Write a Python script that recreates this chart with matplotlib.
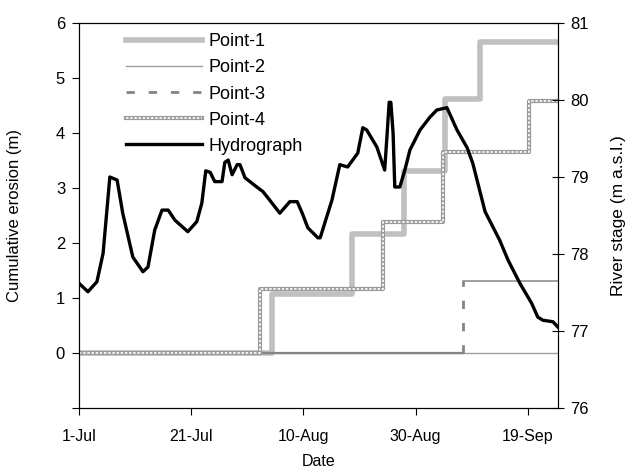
import matplotlib
matplotlib.use("Agg")
import matplotlib.pyplot as plt
from matplotlib.lines import Line2D

plt.rcParams['font.family'] = ['Liberation Sans', 'DejaVu Sans']

# days since 1-Jul
tick_days = [0, 20, 40, 60, 80]
tick_labels = ['1-Jul', '21-Jul', '10-Aug', '30-Aug', '19-Sep']

# cumulative erosion (m), step series
p1_days = [0, 34.4, 48.7, 57.9, 65.2, 71.5, 85.4]
p1_vals = [0, 1.07, 2.16, 3.31, 4.62, 5.65, 5.65]
p2_days = [0, 85.4]
p2_vals = [0, 0]
p3_days = [0, 68.5, 85.4]
p3_vals = [0, 1.31, 1.31]
p4_days = [0, 32.2, 54.2, 64.9, 80.2, 85.4]
p4_vals = [0, 1.16, 2.38, 3.65, 4.58, 4.58]

# river stage (m a.s.l.)
hyd_days = [0, 1.6, 3.2, 4.3, 5.5, 6.8, 7.8, 9.6, 11.4, 12.3, 13.5, 14.8, 15.9,
            17.1, 19.4, 21.0, 21.9, 22.6, 23.4, 24.2, 25.5, 26.0, 26.6, 27.3,
            28.2, 28.7, 29.6, 31.7, 32.8, 34.0, 35.8, 37.6, 38.9, 39.8, 40.8,
            42.6, 43.0, 45.1, 46.5, 47.9, 49.7, 50.6, 51.3, 53.1, 54.5, 54.9,
            55.3, 55.6, 56.0, 56.3, 57.2, 58.1, 59.0, 60.8, 62.6, 63.8, 65.6,
            67.4, 69.2, 70.2, 72.4, 75.0, 76.5, 78.6, 80.7, 81.8, 82.7, 84.5, 85.4]
hyd_stage = [77.62, 77.51, 77.64, 78.01, 79.00, 78.96, 78.53, 77.96, 77.77, 77.83,
             78.31, 78.57, 78.57, 78.44, 78.29, 78.42, 78.66, 79.08, 79.06, 78.94,
             78.94, 79.19, 79.22, 79.03, 79.16, 79.16, 78.99, 78.87, 78.81, 78.70,
             78.53, 78.68, 78.68, 78.53, 78.34, 78.21, 78.21, 78.70, 79.16, 79.13,
             79.31, 79.64, 79.61, 79.39, 79.09, 79.52, 79.97, 79.97, 79.57, 78.87,
             78.87, 79.09, 79.35, 79.61, 79.78, 79.87, 79.90, 79.61, 79.38, 79.18,
             78.55, 78.18, 77.92, 77.62, 77.36, 77.18, 77.14, 77.12, 77.05]

fig = plt.figure(figsize=(6.38, 4.72), dpi=100)
ax = fig.add_axes([0.1238, 0.1356, 0.7508, 0.8157])
ax2 = ax.twinx()

l1, = ax.plot(p1_days, p1_vals, drawstyle='steps-post', color='#c0c0c0', lw=4)
l2, = ax.plot(p2_days, p2_vals, drawstyle='steps-post', color='#a0a0a0', lw=1)

# Point-3: flat parts look solid, the rise is dashed
for i in range(len(p3_days) - 1):
    ax.plot([p3_days[i], p3_days[i + 1]], [p3_vals[i], p3_vals[i]],
            color='#858585', lw=1.6 if i == 0 else 1.1)
    if i > 0:
        ax.plot([p3_days[i], p3_days[i]], [p3_vals[i - 1], p3_vals[i]],
                color='#858585', lw=2, dashes=(3, 5))
l3 = Line2D([], [], color='#858585', lw=2, dashes=(3, 5))

l4a, = ax.plot(p4_days, p4_vals, drawstyle='steps-post', color='#9a9a9a', lw=3)
l4b, = ax.plot(p4_days, p4_vals, drawstyle='steps-post', color='white', lw=1.2,
               dashes=(1.5, 1))
lh, = ax2.plot(hyd_days, hyd_stage, color='black', lw=2.4)

ax.set_xlim(0, 85.4)
ax.set_ylim(-1, 6)
ax2.set_ylim(76, 81)
ax.set_yticks(range(-1, 7))
ax.set_yticklabels([''] + [str(v) for v in range(0, 7)])
ax2.set_yticks(range(76, 82))
ax.set_xticks(tick_days)
ax.set_xticklabels(tick_labels)

ax.tick_params(axis='both', direction='out', length=5, labelsize=12, pad=5)
ax2.tick_params(axis='y', direction='inout', length=8, labelsize=12, pad=5)
ax.tick_params(axis='x', pad=10, labelsize=11.5)

ax.set_ylabel('Cumulative erosion (m)', fontsize=12, labelpad=24)
ax2.set_ylabel('River stage (m a.s.l.)', fontsize=12.5, labelpad=16)
ax.set_xlabel('Date', fontsize=11.5, labelpad=7)

ax2.legend([l1, l2, l3, (l4a, l4b), lh],
           ['Point-1', 'Point-2', 'Point-3', 'Point-4', 'Hydrograph'],
           loc='upper left', bbox_to_anchor=(0.065, 1.015), frameon=False,
           handlelength=4.2, fontsize=13, labelspacing=0.5, handletextpad=0.35)

fig.savefig('out.png', dpi=100)
